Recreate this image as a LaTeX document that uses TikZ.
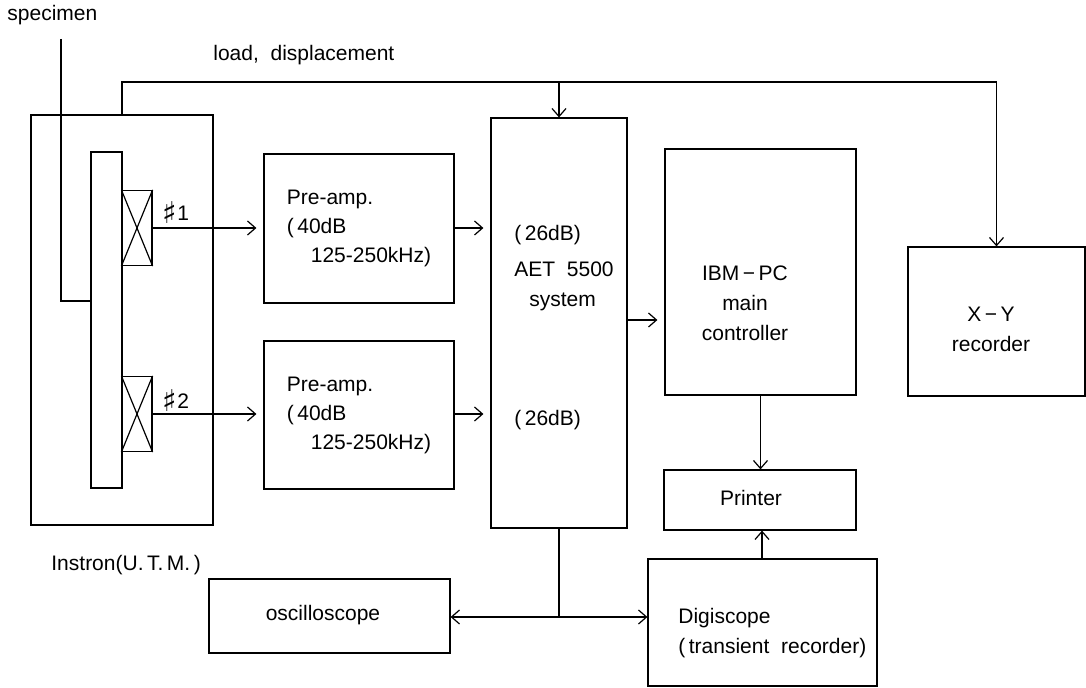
\documentclass[tikz,border=0pt]{standalone}
\usepackage{fontspec}
\setmainfont{Liberation Sans}
\newfontfamily\sharpfont{DejaVu Sans}
\usepackage{tikz}
\usetikzlibrary{arrows.meta, positioning}
\newcommand{\tikzcrossbox}[1]{%
    \draw[wire] (#1.north west) -- (#1.south east);
    \draw[wire] (#1.south west) -- (#1.north east);
}
\newcommand{\sharpsign}{\raisebox{-1.8pt}{\sharpfont\fontsize{15}{15}\selectfont ♯}}
\tikzset{
    wire/.style={line width=0.6pt},
    sig/.style={wire, -{Straight Barb[length=4pt,width=7pt]}},
    sigshort/.style={sig, shorten >=3.5pt},
    blk/.style={draw, wire, inner sep=0pt, align=left, font=\fontsize{10.5}{14.5}\selectfont},
    lbl/.style={inner sep=0pt, align=left, font=\fontsize{10.5}{15}\selectfont},
}

\begin{document}
\begin{tikzpicture}[x=0.5pt, y=-0.5pt]
            \useasboundingbox (0,0) rectangle (1086,688);

            \node[blk, minimum width=91pt, minimum height=205pt] (instron) at (122,320) {};
            \node[blk, minimum width=15.5pt, minimum height=168pt] (bar) at (106.5,320) {};
            \node[blk, minimum width=15pt, minimum height=37.5pt] (s1) at (137,228) {};
            \node[blk, minimum width=15pt, minimum height=37.5pt] (s2) at (137,414) {};
            \tikzcrossbox{s1}
            \tikzcrossbox{s2}

            \node[blk, minimum width=95pt, minimum height=74.5pt] (pre1) at (359,228.5)
                {Pre-amp.\\({\,}40dB\\\hspace{12pt}125-250kHz)};
            \node[blk, minimum width=95pt, minimum height=74pt] (pre2) at (359,415)
                {Pre-amp.\\({\,}40dB\\\hspace{12pt}125-250kHz)};
            \node[blk, minimum width=68pt, minimum height=205pt] (aet) at (559,323) {};
            \node[blk, minimum width=95.5pt, minimum height=123pt] (ibm) at (760.5,272) {};
            \node[blk, minimum width=96pt, minimum height=30pt] (printer) at (760,500) {};
            \node[blk, minimum width=88.5pt, minimum height=74.5pt] (xy) at (996.5,321.5) {};
            \node[blk, minimum width=120.5pt, minimum height=37pt] (osc) at (329.5,616) {};
            \node[blk, minimum width=114.5pt, minimum height=63.5pt] (digi) at (762.5,622.5) {};

            \coordinate (spectop) at (61,39);
            \coordinate (specbend) at (61,301);
            \coordinate (bus) at (0,82);
            \coordinate (split) at (aet.south |- 0,617);

            \draw[wire] (spectop) -- (specbend) -- (specbend -| bar.west);
            \draw[sig] (instron.north) -- (instron.north |- bus) -| (xy.north);
            \draw[sig] (aet.north |- bus) -- (aet.north);
            \draw[sigshort] (s1.east) -- (s1.east -| pre1.west);
            \draw[sigshort] (s2.east) -- (s2.east -| pre2.west);
            \draw[sigshort] (s1.east -| pre1.east) -- (s1.east -| aet.west);
            \draw[sigshort] (s2.east -| pre2.east) -- (s2.east -| aet.west);
            \draw[sigshort] (aet.east |- 0,320) -- (ibm.west |- 0,320);
            \draw[sig] (ibm.south) -- (ibm.south |- printer.north);
            \draw[sig] (digi.north -| 762,0) -- (printer.south -| 762,0);
            \draw[wire] (aet.south) -- (split);
            \draw[sig] (split) -- (osc.east |- split);
            \draw[sig] (split) -- (digi.west |- split);

            \node[lbl, anchor=west] (spectxt) at (7,15) {specimen};
            \node[lbl, anchor=west] (loadtxt) at (213,55) {load,\ \ displacement};
            \node[lbl, anchor=west] (instxt) at (51,565) {Instron(U.\,T.\,M.\,)};
            \node[lbl] (n1) at (176,213) {\sharpsign1};
            \node[lbl] (n2) at (176,401) {\sharpsign2};
            \node[lbl, anchor=west] (aettxt) at (514,268)
                {({\,}26dB)\\[3pt]AET\ \ 5500\\\hspace{7.5pt}system};
            \node[lbl, anchor=west] (aetgain) at (514,420) {({\,}26dB)};
            \node[lbl, align=center] (ibmtxt) at (745,303) {IBM\,−\,PC\\main\\controller};
            \node[lbl] (printxt) at (751,498) {Printer};
            \node[lbl, align=center] (xytxt) at (991,329) {X\,−\,Y\\recorder};
            \node[lbl] (osctxt) at (323,615) {oscilloscope};
            \node[lbl, anchor=west] (digitxt) at (678,633.5) {Digiscope\\({\,}transient\ \ recorder)};

        \end{tikzpicture}
\end{document}
